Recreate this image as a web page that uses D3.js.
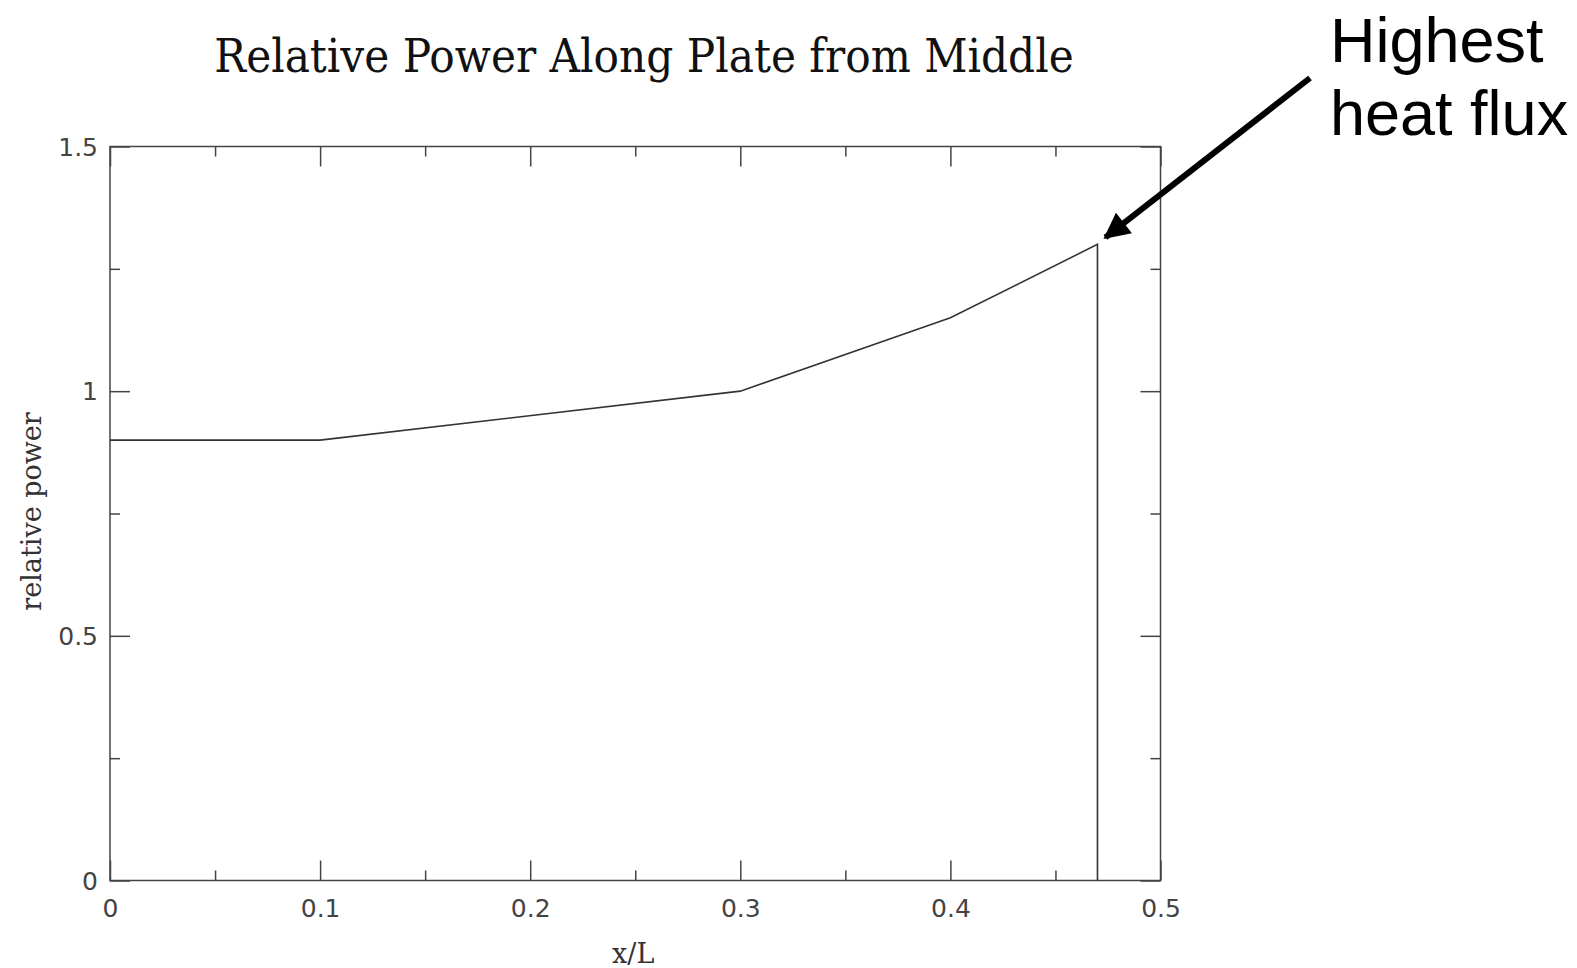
<!DOCTYPE html>
<html>
<head>
<meta charset="utf-8">
<script src="https://cdn.jsdelivr.net/npm/d3@7"></script>
<style>
  body { margin: 0; background: #fff; }
  .tick-label { font-family: "DejaVu Sans", sans-serif; font-size: 25px; fill: #444; }
  .axis-title { font-family: "DejaVu Serif", serif; font-size: 27px; fill: #333; }
</style>
</head>
<body>
<div id="chart"></div>
<script>
// data
var xs = [0, 0.1, 0.3, 0.4, 0.47, 0.47];
var power = [0.9, 0.9, 1.0, 1.15, 1.3, 0];
var xTicks = [0, 0.1, 0.2, 0.3, 0.4, 0.5];
var xMinor = [0.05, 0.15, 0.25, 0.35, 0.45];
var yTicks = [0, 0.5, 1, 1.5];
var yMinor = [0.25, 0.75, 1.25];
var peak = {x: 0.47, y: 1.3};

var W = 1577, H = 968;
var margin = {top: 146.5, right: 416.5, bottom: 87.5, left: 110};
var width = W - margin.left - margin.right,
    height = H - margin.top - margin.bottom;

var x = d3.scaleLinear().domain([0, 0.5]).range([0, width]);
var y = d3.scaleLinear().domain([0, 1.5]).range([height, 0]);

var svg = d3.select("#chart").append("svg")
    .attr("width", W)
    .attr("height", H);

var main = svg.append("g")
    .attr("transform", "translate(" + margin.left + "," + margin.top + ")");

// frame
main.append("rect")
    .attr("width", width)
    .attr("height", height)
    .attr("fill", "none")
    .attr("stroke", "#444")
    .attr("stroke-width", 1.5);

var fmt = function (d) { return d3.format("")(d); };

// ticks inward on all four sides
function ticks(axis, vals, size, labels) {
    var g = main.append("g").call(axis.tickValues(vals).tickSizeInner(-size).tickSizeOuter(0)
        .tickFormat(labels ? fmt : ""));
    g.select(".domain").remove();
    g.selectAll(".tick line").attr("stroke", "#444").attr("stroke-width", 1.5);
    g.selectAll(".tick text").attr("class", "tick-label").attr("fill", null);
    return g;
}

var bx = ticks(d3.axisBottom(x), xTicks, 20, true).attr("transform", "translate(0," + height + ")");
bx.selectAll(".tick text").attr("y", 19).attr("dy", "0.71em");
ticks(d3.axisBottom(x), xMinor, 10, false).attr("transform", "translate(0," + height + ")");
ticks(d3.axisTop(x), xTicks, 20, false);
ticks(d3.axisTop(x), xMinor, 10, false);

var ly = ticks(d3.axisLeft(y), yTicks, 20, true);
ly.selectAll(".tick text").attr("x", -12).attr("dy", "0.35em");
ticks(d3.axisLeft(y), yMinor, 10, false);
ticks(d3.axisRight(y), yTicks, 20, false).attr("transform", "translate(" + width + ",0)");
ticks(d3.axisRight(y), yMinor, 10, false).attr("transform", "translate(" + width + ",0)");

// curve
var line = d3.line()
    .x(function (d, i) { return x(xs[i]); })
    .y(function (d) { return y(d); });

main.append("path")
    .datum(power)
    .attr("fill", "none")
    .attr("stroke", "#333")
    .attr("stroke-width", 1.6)
    .attr("d", line);

// titles
svg.append("text")
    .attr("x", 644)
    .attr("y", 72)
    .attr("text-anchor", "middle")
    .style("font-family", "'DejaVu Serif', serif")
    .style("font-stretch", "condensed")
    .style("font-size", "47px")
    .attr("fill", "#111")
    .text("Relative Power Along Plate from Middle");

svg.append("text")
    .attr("class", "axis-title")
    .attr("x", margin.left + x(0.25) - 2)
    .attr("y", 963)
    .attr("text-anchor", "middle")
    .text("x/L");

svg.append("text")
    .attr("class", "axis-title")
    .attr("transform", "translate(41," + (margin.top + y(0.75) - 2) + ") rotate(-90)")
    .attr("text-anchor", "middle")
    .text("relative power");

// annotation
svg.append("defs").append("marker")
    .attr("id", "head")
    .attr("viewBox", "0 0 10 10")
    .attr("refX", 9)
    .attr("refY", 5)
    .attr("markerUnits", "userSpaceOnUse")
    .attr("markerWidth", 32)
    .attr("markerHeight", 26)
    .attr("orient", "auto")
    .append("path")
    .attr("d", "M0,0 L10,5 L0,10 Z")
    .attr("fill", "#000");

svg.append("line")
    .attr("x1", 1310)
    .attr("y1", 78)
    .attr("x2", margin.left + x(peak.x) + 8)
    .attr("y2", margin.top + y(peak.y) - 7)
    .attr("stroke", "#000")
    .attr("stroke-width", 6)
    .attr("marker-end", "url(#head)");

var note = svg.append("text")
    .style("font-family", "'Liberation Sans', Arial, sans-serif")
    .style("font-size", "63px")
    .attr("fill", "#000");
note.append("tspan").attr("x", 1330).attr("y", 62).text("Highest");
note.append("tspan").attr("x", 1330).attr("y", 135).text("heat flux");
</script>
</body>
</html>
